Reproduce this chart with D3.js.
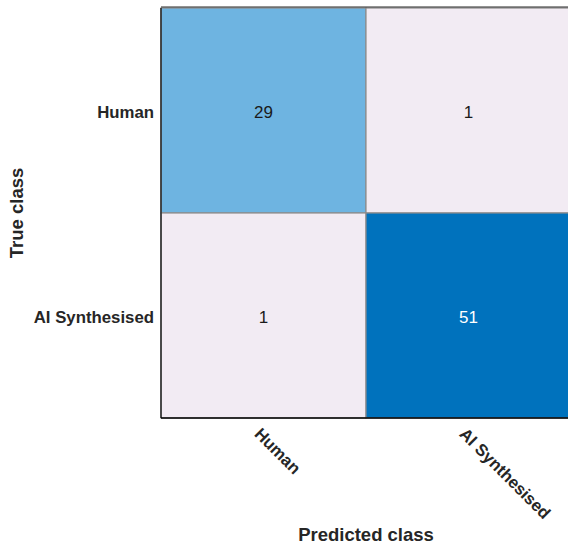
<!DOCTYPE html>
<html><head><meta charset="utf-8">
<script src="https://cdn.jsdelivr.net/npm/d3@7"></script>
<style>body{margin:0;background:#fff}svg{display:block}text{font-family:"Liberation Sans",Arial,Helvetica,sans-serif}</style>
</head><body>
<svg id="c" width="568" height="546"></svg>
<script>
const classes = ["Human", "AI Synthesised"];
const trueClass = ["Human", "Human", "AI Synthesised", "AI Synthesised"];
const predClass = ["Human", "AI Synthesised", "Human", "AI Synthesised"];
const counts = [29, 1, 1, 51];
const xTitle = "Predicted class";
const yTitle = "True class";

const cells = counts.map((v, i) => ({t: trueClass[i], p: predClass[i], v}));
const svg = d3.select("#c");
const m = {l: 161, t: 8, r: 571, b: 418};
const x = d3.scaleBand().domain(classes).range([m.l, m.r]);
const y = d3.scaleBand().domain(classes).range([m.t, m.b]);
const offColor = "#f2ebf3";
const diagScale = d3.scaleLinear().domain([0, d3.max(counts)]).range(["#f2ebf3", "#0072bd"]);
const fill = d => d.t === d.p ? (d.v === 29 ? "#6eb4e1" : diagScale(d.v)) : offColor;

svg.append("g").selectAll("rect").data(cells).join("rect")
  .attr("x", d => x(d.p)).attr("y", d => y(d.t))
  .attr("width", x.bandwidth()).attr("height", y.bandwidth())
  .attr("fill", fill).attr("stroke", "#8c8c8c").attr("stroke-width", 1.2);

svg.append("g").selectAll("text").data(cells).join("text")
  .attr("x", d => x(d.p) + x.bandwidth() / 2)
  .attr("y", d => y(d.t) + y.bandwidth() / 2)
  .attr("dy", "0.45em").attr("text-anchor", "middle")
  .attr("font-size", 17)
  .attr("fill", d => d.v > 40 ? "#fff" : "#1a1a1a")
  .text(d => d.v);

// frame
svg.append("line").attr("x1", m.l).attr("x2", m.l).attr("y1", m.t).attr("y2", m.b).attr("stroke", "#262626").attr("stroke-width", 1.5);
svg.append("line").attr("x1", m.l).attr("x2", m.r).attr("y1", m.b).attr("y2", m.b).attr("stroke", "#000").attr("stroke-width", 1.5);
svg.append("line").attr("x1", m.l).attr("x2", m.r).attr("y1", m.t - 1).attr("y2", m.t - 1).attr("stroke", "#262626").attr("stroke-width", 1);

// y ticks
svg.append("g").selectAll("text").data(classes).join("text")
  .attr("x", m.l - 7).attr("y", d => y(d) + y.bandwidth() / 2)
  .attr("dy", "0.42em").attr("text-anchor", "end")
  .attr("font-size", 16.8).attr("font-weight", "bold").attr("fill", "#262626")
  .text(d => d);

// x ticks rotated
svg.append("g").selectAll("text").data(classes).join("text")
  .attr("transform", d => `translate(${x(d) + x.bandwidth() / 2 - 10},${m.b + 17}) rotate(45)`)
  .attr("text-anchor", "start")
  .attr("font-size", 16.8).attr("font-weight", "bold").attr("fill", "#262626")
  .text(d => d);

svg.append("text").attr("x", (m.l + m.r) / 2).attr("y", 541)
  .attr("text-anchor", "middle").attr("font-size", 18.5).attr("font-weight", "bold").attr("fill", "#262626")
  .text(xTitle);
svg.append("text").attr("transform", `translate(23,${(m.t + m.b) / 2}) rotate(-90)`)
  .attr("text-anchor", "middle").attr("font-size", 18.5).attr("font-weight", "bold").attr("fill", "#262626")
  .text(yTitle);
</script>
</body></html>
